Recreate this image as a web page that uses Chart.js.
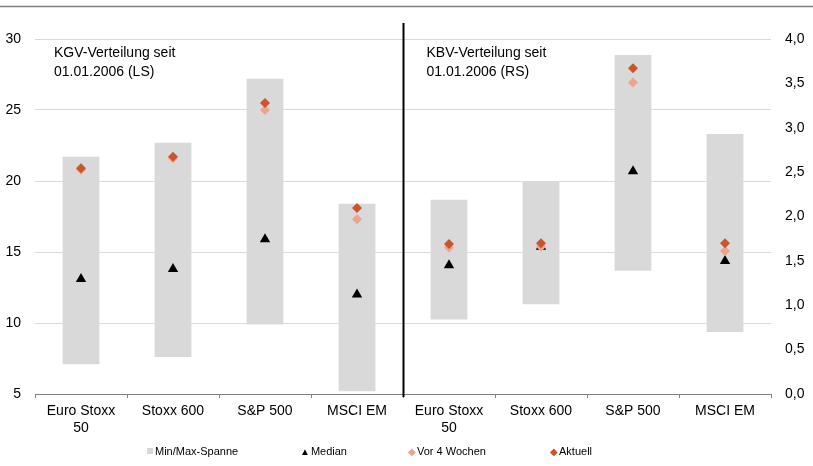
<!DOCTYPE html>
<html>
<head>
<meta charset="utf-8">
<script src="https://cdn.jsdelivr.net/npm/chart.js@4.4.1/dist/chart.umd.min.js"></script>
<style>
  body { margin: 0; background: #fff; font-family: "Liberation Sans", Arial, sans-serif; }
  #wrap { position: relative; width: 813px; height: 466px; }
  .lg { position: absolute; top: 443px; height: 16px; line-height: 16px; font-size: 11px; color: #000; white-space: nowrap; }
  .mk { display: inline-block; margin-right: 1px; }
</style>
</head>
<body>
<div id="wrap">
  <canvas id="chart" width="813" height="466"></canvas>
  <div class="lg" style="left:147px"><span class="mk" style="width:6px;height:6px;background:#d9d9d9;vertical-align:1px;margin-right:2px"></span>Min/Max-Spanne</div>
  <div class="lg" style="left:300px"><span class="mk" style="font-size:10px">&#9650;</span>Median</div>
  <div class="lg" style="left:408px"><span class="mk" style="font-size:10px;color:#eba58e">&#9670;</span>Vor 4 Wochen</div>
  <div class="lg" style="left:550px"><span class="mk" style="font-size:10px;color:#c9562b">&#9670;</span>Aktuell</div>
</div>
<script>
// Kategorien: links KGV (linke Achse), rechts KBV (rechte Achse)
const categories = [["Euro Stoxx", "50"], "Stoxx 600", "S&P 500", "MSCI EM",
                    ["Euro Stoxx", "50"], "Stoxx 600", "S&P 500", "MSCI EM"];

// KGV seit 01.01.2006
const kgvMin     = [7.1, 7.6, 9.9, 5.2];
const kgvMax     = [21.7, 22.7, 27.2, 18.4];
const kgvMedian  = [13.1, 13.8, 15.9, 12.0];
const kgvVor4W   = [20.8, 21.6, 25.0, 17.3];
const kgvAktuell = [20.9, 21.7, 25.5, 18.1];

// KBV seit 01.01.2006
const kbvMin     = [0.84, 1.01, 1.39, 0.70];
const kbvMax     = [2.19, 2.39, 3.82, 2.93];
const kbvMedian  = [1.45, 1.66, 2.51, 1.50];
const kbvVor4W   = [1.65, 1.66, 3.51, 1.61];
const kbvAktuell = [1.69, 1.70, 3.67, 1.70];

const noteLeft = ["KGV-Verteilung seit", "01.01.2006 (LS)"];
const noteRight = ["KBV-Verteilung seit", "01.01.2006 (RS)"];

const EMPTY = [null, null, null, null];
const leftSide = (arr) => arr.concat(EMPTY);
const rightSide = (arr) => EMPTY.concat(arr);
const ranges = (lo, hi) => lo.map((v, i) => [v, hi[i]]);

const GRAY = "#d9d9d9";
const LIGHT = "#eba58e";
const DARK = "#c9562b";

const pts = (label, data, axis, style, color, radius, order) => ({
  type: "line", label: label, data: data, yAxisID: axis, order: order,
  showLine: false, pointStyle: style, pointRadius: radius, pointHoverRadius: radius,
  backgroundColor: color, borderColor: color, borderWidth: 0
});
const bars = (label, data, axis) => ({
  type: "bar", label: label, data: data, yAxisID: axis, order: 4, grouped: false,
  backgroundColor: GRAY, borderWidth: 0, barPercentage: 0.4, categoryPercentage: 1.0
});

// Text, Trennlinie und obere Linie
const extras = {
  id: "extras",
  afterDraw(chart) {
    const ctx = chart.ctx;
    const x = chart.scales.x;
    const area = chart.chartArea;
    const divX = Math.round((x.getPixelForValue(3) + x.getPixelForValue(4)) / 2) + 0.5;
    ctx.save();
    ctx.strokeStyle = "#808080";
    ctx.lineWidth = 1.5;
    ctx.beginPath(); ctx.moveTo(0, 6.5); ctx.lineTo(813, 6.5); ctx.stroke();
    ctx.strokeStyle = "#000";
    ctx.lineWidth = 2;
    ctx.beginPath(); ctx.moveTo(divX, 23); ctx.lineTo(divX, area.bottom + 3); ctx.stroke();
    ctx.fillStyle = "#000";
    ctx.font = '14px "Liberation Sans", Arial, sans-serif';
    ctx.textBaseline = "middle";
    noteLeft.forEach((t, i) => ctx.fillText(t, area.left + 19, 53 + i * 19));
    noteRight.forEach((t, i) => ctx.fillText(t, divX + 23, 53 + i * 19));
    ctx.restore();
  }
};

const tickFont = { family: '"Liberation Sans", Arial, sans-serif', size: 14 };

new Chart(document.getElementById("chart"), {
  data: {
    labels: categories,
    datasets: [
      pts("Aktuell", leftSide(kgvAktuell), "yL", "rectRot", DARK, 5, 1),
      pts("Vor 4 Wochen", leftSide(kgvVor4W), "yL", "rectRot", LIGHT, 5, 2),
      pts("Median", leftSide(kgvMedian), "yL", "triangle", "#000", 6, 3),
      bars("Min/Max-Spanne", leftSide(ranges(kgvMin, kgvMax)), "yL"),
      pts("Aktuell", rightSide(kbvAktuell), "yR", "rectRot", DARK, 5, 1),
      pts("Vor 4 Wochen", rightSide(kbvVor4W), "yR", "rectRot", LIGHT, 5, 2),
      pts("Median", rightSide(kbvMedian), "yR", "triangle", "#000", 6, 3),
      bars("Min/Max-Spanne", rightSide(ranges(kbvMin, kbvMax)), "yR")
    ]
  },
  options: {
    responsive: false,
    animation: false,
    layout: { padding: { top: 39, left: 0, right: 0, bottom: 0 } },
    plugins: { legend: { display: false }, tooltip: { enabled: false } },
    scales: {
      x: {
        type: "category",
        offset: true,
        grid: { offset: true, drawOnChartArea: false, drawTicks: true, tickLength: 4, color: "#808080" },
        border: { color: "#808080", width: 1 },
        ticks: { font: tickFont, color: "#000", padding: 5, maxRotation: 0, autoSkip: false },
        afterFit(s) { s.height = 72; }
      },
      yL: {
        position: "left",
        min: 5, max: 30,
        ticks: { stepSize: 5, font: tickFont, color: "#000", padding: 14 },
        grid: { color: GRAY, drawTicks: false },
        border: { display: false },
        afterFit(s) { s.width = 35; }
      },
      yR: {
        position: "right",
        min: 0, max: 4,
        ticks: { stepSize: 0.5, font: tickFont, color: "#000", padding: 14,
                 callback: (v) => v.toFixed(1).replace(".", ",") },
        grid: { display: false, drawTicks: false },
        border: { display: false },
        afterFit(s) { s.width = 42; }
      }
    }
  },
  plugins: [extras]
});
</script>
</body>
</html>
